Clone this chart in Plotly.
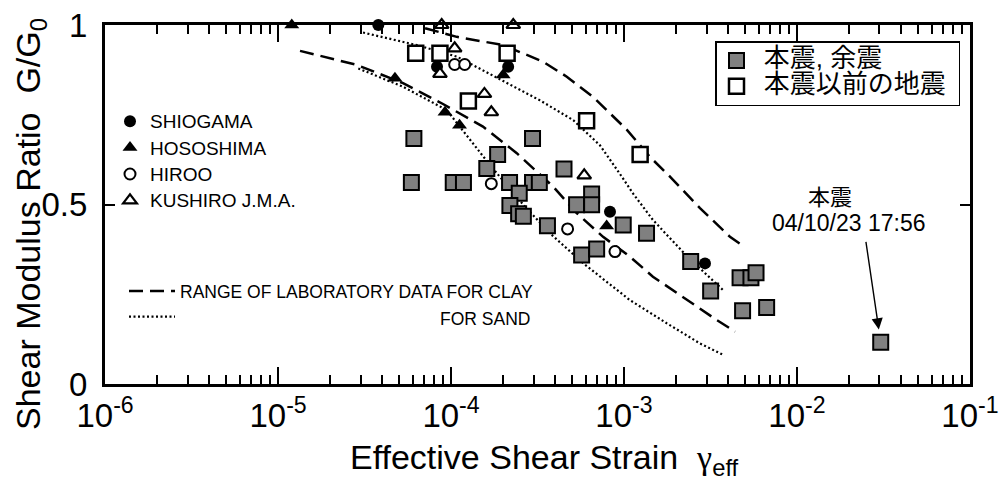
import plotly.graph_objects as go
import numpy as np

# ---------------- data ----------------
# 本震, 余震 (gray squares); last element is the main shock
main_x = [6.1e-5, 1.86e-4, 1.61e-4, 5.9e-5, 1.03e-4, 1.18e-4, 2.18e-4, 2.96e-4, 3.24e-4,
          2.96e-4, 4.5e-4, 2.48e-4, 2.19e-4, 2.46e-4, 2.62e-4, 3.61e-4, 5.32e-4, 6.5e-4,
          6.5e-4, 9.9e-4, 5.69e-4, 6.95e-4, 1.35e-3, 2.43e-3, 3.17e-3, 4.69e-3, 5.42e-3,
          5.8e-3, 4.85e-3, 6.68e-3, 3.05e-2]
main_y = [0.684, 0.639, 0.600, 0.561, 0.561, 0.561, 0.561, 0.561, 0.561,
          0.684, 0.599, 0.531, 0.497, 0.474, 0.467, 0.441, 0.499, 0.529,
          0.499, 0.443, 0.359, 0.376, 0.420, 0.341, 0.259, 0.296, 0.296,
          0.310, 0.204, 0.213, 0.116]

# 本震以前の地震 (open squares)
pre_x = [6.25e-5, 8.63e-5, 2.11e-4, 1.26e-4, 6.08e-4, 1.24e-3]
pre_y = [0.921, 0.921, 0.921, 0.788, 0.733, 0.639]

# sites
shiogama_x = [3.8e-5, 8.3e-5, 2.14e-4, 8.3e-4, 2.94e-3]
shiogama_y = [1.0, 0.884, 0.884, 0.480, 0.336]
hososhima_x = [1.2e-5, 4.74e-5, 9.23e-5, 1.12e-4, 2.0e-4, 7.94e-4]
hososhima_y = [1.0, 0.852, 0.757, 0.721, 0.861, 0.440]
hiroo_x = [1.05e-4, 1.2e-4, 1.71e-4, 4.72e-4, 8.87e-4]
hiroo_y = [0.890, 0.890, 0.558, 0.432, 0.369]
kushiro_x = [8.83e-5, 2.29e-4, 1.05e-4, 8.63e-5, 1.56e-4, 1.71e-4, 5.89e-4]
kushiro_y = [1.0, 1.0, 0.935, 0.864, 0.808, 0.757, 0.581]

# range of laboratory data: clay (dashed), sand (dotted)
clay_up_x = [7.08e-5, 1.08e-4, 2.0e-4, 3.40e-4, 4.67e-4, 6.62e-4, 1.04e-3, 1.41e-3,
             1.85e-3, 2.75e-3, 4.10e-3, 5.0e-3]
clay_up_y = [0.991, 0.967, 0.944, 0.898, 0.856, 0.800, 0.708, 0.633, 0.577, 0.490, 0.410, 0.381]
clay_lo_x = [1.34e-5, 2.85e-5, 5.28e-5, 8.99e-5, 1.53e-4, 2.40e-4, 3.89e-4, 5.33e-4,
             7.57e-4, 1.08e-3, 1.47e-3, 2.30e-3, 3.44e-3, 4.39e-3]
clay_lo_y = [0.928, 0.889, 0.838, 0.780, 0.717, 0.643, 0.550, 0.476, 0.410, 0.355, 0.299,
             0.234, 0.178, 0.146]
sand_up_x = [3.10e-5, 6.34e-5, 1.08e-4, 2.10e-4, 3.27e-4, 5.09e-4, 7.26e-4, 9.48e-4,
             1.13e-3, 1.47e-3, 2.19e-3, 2.75e-3, 3.73e-3]
sand_up_y = [0.979, 0.944, 0.912, 0.840, 0.790, 0.735, 0.665, 0.585, 0.530, 0.457, 0.368,
             0.322, 0.262]
sand_lo_x = [2.91e-5, 5.28e-5, 9.44e-5, 1.29e-4, 1.68e-4, 2.62e-4, 3.73e-4, 5.82e-4,
             1.08e-3, 1.77e-3, 2.75e-3, 3.75e-3]
sand_lo_y = [0.879, 0.828, 0.763, 0.680, 0.610, 0.499, 0.420, 0.336, 0.234, 0.169, 0.113, 0.081]

x_tickvals = [1e-6, 1e-5, 1e-4, 1e-3, 1e-2, 1e-1]
x_ticktext = ["10<sup>-6</sup>", "10<sup>-5</sup>", "10<sup>-4</sup>", "10<sup>-3</sup>",
              "10<sup>-2</sup>", "10<sup>-1</sup>"]
x_minor_mult = [2, 3, 4, 5, 6, 7, 8, 9]
y_tickvals = [0, 0.5, 1]
y_ticktext = ["0", "0.5", "1"]

# ---------------- layout helpers ----------------
W, H = 999, 483
L, R, T, B = 105, 29, 25, 99
PW, PH = W - L - R, H - T - B


def px(xp):
    return (xp - L) / PW


def py(yp):
    return (H - B - yp) / PH


SANS = "Liberation Sans, Arial, sans-serif"
CJK = "Liberation Sans, Noto Sans CJK JP, sans-serif"

x_minor_vals = [m * d for d in x_tickvals[:-1] for m in x_minor_mult]

fig = go.Figure()

DASH = "14px,7px"
DOT = "2px,2.5px"

fig.add_trace(go.Scatter(x=clay_up_x, y=clay_up_y, mode="lines",
                         line=dict(color="black", width=2.5, dash=DASH),
                         name="RANGE OF LABORATORY DATA FOR CLAY",
                         legend="legend3", legendgroup="clay", hoverinfo="skip"))
fig.add_trace(go.Scatter(x=clay_lo_x, y=clay_lo_y, mode="lines",
                         line=dict(color="black", width=2.5, dash=DASH),
                         legend="legend3", legendgroup="clay", showlegend=False, hoverinfo="skip"))
fig.add_trace(go.Scatter(x=sand_up_x, y=sand_up_y, mode="lines",
                         line=dict(color="black", width=2.2, dash=DOT),
                         name=" ", legend="legend3", legendgroup="sand", hoverinfo="skip"))
fig.add_trace(go.Scatter(x=sand_lo_x, y=sand_lo_y, mode="lines",
                         line=dict(color="black", width=2.2, dash=DOT),
                         legend="legend3", legendgroup="sand", showlegend=False, hoverinfo="skip"))

ST = '<span style="font-size:19px">%s</span>'
fig.add_trace(go.Scatter(x=shiogama_x, y=shiogama_y, mode="markers", cliponaxis=False,
                         marker=dict(symbol="circle", size=12, color="black"),
                         name=ST % "SHIOGAMA", legend="legend2"))
fig.add_trace(go.Scatter(x=hososhima_x, y=hososhima_y, mode="markers", cliponaxis=False,
                         marker=dict(symbol="triangle-up", size=13, color="black"),
                         name=ST % "HOSOSHIMA", legend="legend2"))
fig.add_trace(go.Scatter(x=hiroo_x, y=hiroo_y, mode="markers", cliponaxis=False,
                         marker=dict(symbol="circle", size=11, color="white",
                                     line=dict(color="black", width=2)),
                         name=ST % "HIROO", legend="legend2"))
fig.add_trace(go.Scatter(x=kushiro_x, y=kushiro_y, mode="markers", cliponaxis=False,
                         marker=dict(symbol="triangle-up", size=12, color="white",
                                     line=dict(color="black", width=2.2)),
                         name=ST % "KUSHIRO J.M.A.", legend="legend2"))

LG = '<span style="font-size:26px">\u00a0%s\u00a0</span>'
fig.add_trace(go.Scatter(x=main_x, y=main_y, mode="markers", cliponaxis=False,
                         marker=dict(symbol="square", size=15, color="#808080",
                                     line=dict(color="black", width=2)),
                         name=LG % "本震, 余震", legend="legend"))
fig.add_trace(go.Scatter(x=pre_x, y=pre_y, mode="markers", cliponaxis=False,
                         marker=dict(symbol="square", size=15, color="white",
                                     line=dict(color="black", width=2.5)),
                         name=LG % "本震以前の地震", legend="legend"))

axis_common = dict(showline=True, linecolor="black", linewidth=3, mirror="ticks",
                   ticks="inside", tickcolor="black", showgrid=False, zeroline=False,
                   automargin=False, layer="above traces",
                   tickfont=dict(family=SANS, size=33, color="black"))

fig.update_layout(
    width=W, height=H,
    margin=dict(l=L, r=R, t=T, b=B, pad=0, autoexpand=False),
    paper_bgcolor="white", plot_bgcolor="white",
    xaxis=dict(type="log", range=[-6.0005, -0.9995], tickmode="array",
               tickvals=x_tickvals, ticktext=x_ticktext,
               ticklen=17, tickwidth=2.2,
               minor=dict(ticks="inside", ticklen=9, tickwidth=2, tickcolor="black",
                          tickmode="array", tickvals=x_minor_vals, showgrid=False),
               **axis_common),
    yaxis=dict(range=[0, 1], tickmode="array", tickvals=y_tickvals, ticktext=y_ticktext,
               ticklen=10, tickwidth=2.2, ticklabelstandoff=8, **axis_common),
    legend=dict(x=px(960), y=py(41), xanchor="right", yanchor="top",
                bgcolor="white", bordercolor="black", borderwidth=1.5,
                font=dict(family=CJK, size=17.5, color="black"), itemwidth=30,
                tracegroupgap=0),
    legend2=dict(x=px(110), y=py(103), xanchor="left", yanchor="top",
                 bgcolor="rgba(0,0,0,0)", borderwidth=0, tracegroupgap=0,
                 font=dict(family=SANS, size=18, color="black"), itemwidth=30),
    legend3=dict(x=px(124), y=py(273), xanchor="left", yanchor="top",
                 bgcolor="rgba(0,0,0,0)", borderwidth=0, tracegroupgap=0,
                 font=dict(family=SANS, size=17.5, color="black"), itemwidth=46),
    showlegend=True,
)

ann_font = dict(family=SANS, color="black")
fig.add_annotation(text="Shear Modulus Ratio  G/G<sub>0</sub>", xref="paper", yref="paper",
                   x=px(30), y=py(224), textangle=-90, showarrow=False,
                   xanchor="center", yanchor="middle", font=dict(size=34, **ann_font))
fig.add_annotation(text='Effective Shear Strain  <span style="font-family:Liberation Serif">γ</span><sub>eff</sub>',
                   xref="paper", yref="paper", x=px(544), y=py(460), showarrow=False,
                   xanchor="center", yanchor="middle", font=dict(size=34, **ann_font))
fig.add_annotation(text="FOR SAND", xref="paper", yref="paper", x=px(532), y=py(319),
                   showarrow=False, xanchor="right", yanchor="middle",
                   font=dict(family=SANS, size=17.5, color="black"))
fig.add_annotation(text="本震", xref="paper", yref="paper", x=px(830), y=py(197),
                   showarrow=False, xanchor="center", yanchor="middle",
                   font=dict(family=CJK, size=22, color="black"))
fig.add_annotation(text="04/10/23 17:56", xref="paper", yref="paper", x=px(848.5), y=py(223),
                   showarrow=False, xanchor="center", yanchor="middle",
                   font=dict(family=SANS, size=23, color="black"))
fig.add_annotation(text="", x=np.log10(main_x[-1]), y=main_y[-1], xref="x", yref="y",
                   showarrow=True, ax=-15, ay=-102, axref="pixel", ayref="pixel",
                   arrowhead=2, arrowsize=1.6, arrowwidth=1.4, arrowcolor="black", standoff=13)

fig.write_html("out.html")
